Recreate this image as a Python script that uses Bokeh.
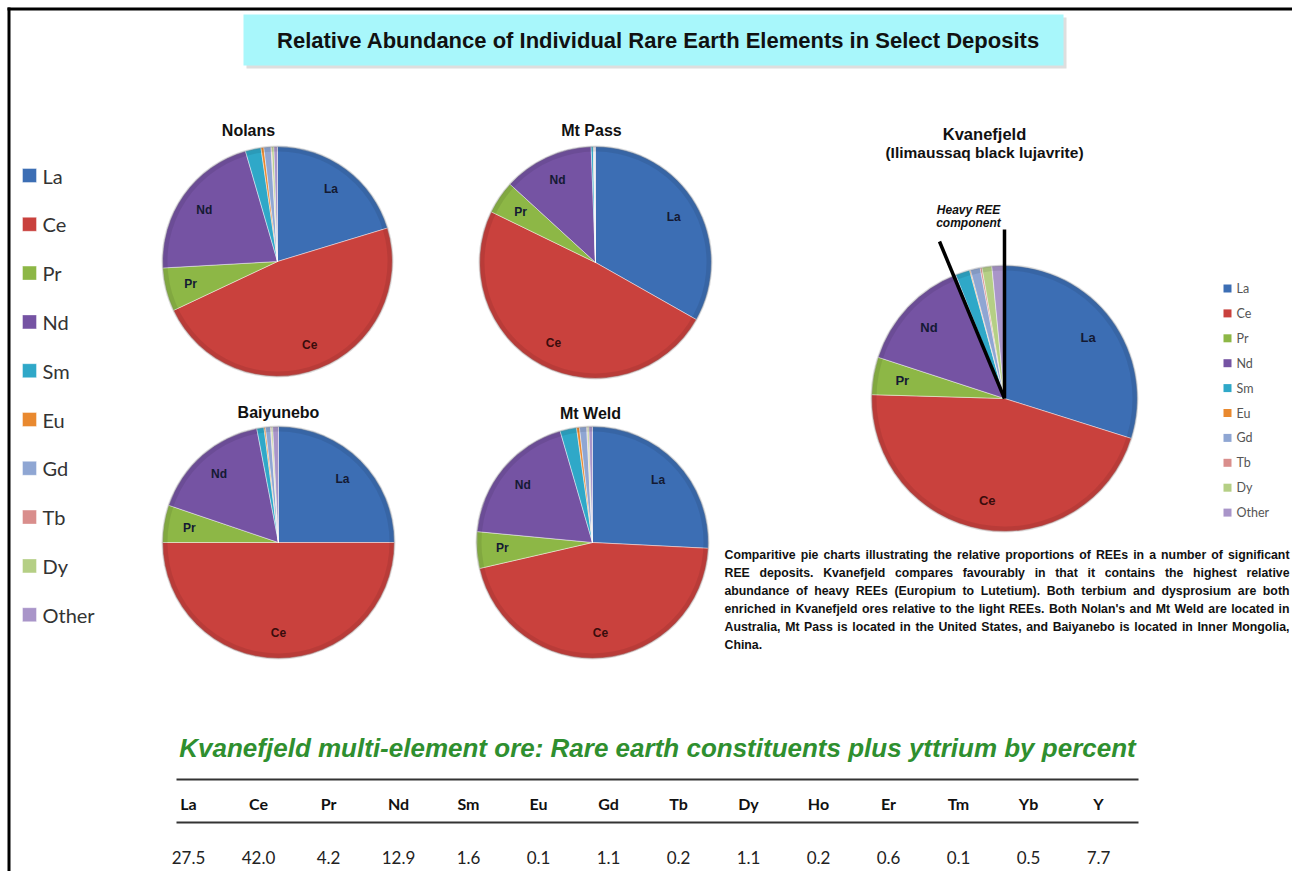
import math
from bokeh.plotting import figure
from bokeh.models import Range1d, ColumnDataSource
from bokeh.core.properties import value
from bokeh.embed import file_html
from bokeh.resources import INLINE

W, H = 1292, 871

# ---- data ---------------------------------------------------------------
elements = ["La", "Ce", "Pr", "Nd", "Sm", "Eu", "Gd", "Tb", "Dy", "Other"]
colors = ["#3C6EB4", "#C9413D", "#8DB746", "#7553A3", "#2FA8C8",
          "#E9892F", "#8FA6D3", "#D98E8C", "#B5CF85", "#A995C9"]

nolans = [20.3, 47.7, 6.1, 21.4, 2.2, 0.4, 1.0, 0.1, 0.3, 0.5]
mt_pass = [33.2, 49.0, 4.6, 12.6, 0.3, 0.05, 0.1, 0.02, 0.03, 0.1]
baiyunebo = [25.0, 50.0, 5.2, 16.8, 1.0, 0.2, 0.7, 0.1, 0.2, 0.8]
mt_weld = [25.8, 45.6, 5.1, 19.0, 2.3, 0.4, 1.0, 0.1, 0.2, 0.5]

table_elements = ["La", "Ce", "Pr", "Nd", "Sm", "Eu", "Gd", "Tb", "Dy",
                  "Ho", "Er", "Tm", "Yb", "Y"]
table_values = [27.5, 42.0, 4.2, 12.9, 1.6, 0.1, 1.1, 0.2, 1.1,
                0.2, 0.6, 0.1, 0.5, 7.7]

# Kvanefjeld pie: lanthanides from the table, Ho..Yb lumped as "Other"
kv = dict(zip(table_elements, table_values))
kvanefjeld = [kv["La"], kv["Ce"], kv["Pr"], kv["Nd"], kv["Sm"], kv["Eu"],
              kv["Gd"], kv["Tb"], kv["Dy"],
              kv["Ho"] + kv["Er"] + kv["Tm"] + kv["Yb"]]

caption = ("Comparitive pie charts illustrating the relative proportions of REEs in a number of significant\n"
           "REE deposits. Kvanefjeld compares favourably in that it contains the highest relative\n"
           "abundance of heavy REEs (Europium to Lutetium). Both terbium and dysprosium are both\n"
           "enriched in Kvanefjeld ores relative to the light REEs. Both Nolan's and Mt Weld are located in\n"
           "Australia, Mt Pass is located in the United States, and Baiyanebo is located in Inner Mongolia,\n"
           "China.")

# ---- canvas -------------------------------------------------------------
p = figure(width=W, height=H, x_range=Range1d(0, W), y_range=Range1d(0, H),
           output_backend="svg", toolbar_location=None, min_border=0)
p.axis.visible = False
p.grid.visible = False
p.outline_line_color = None
p.background_fill_color = "white"
p.border_fill_color = "white"


def Y(py):
    return H - py


def txt(x, y, s, size, font="Liberation Sans", style="normal",
        color="black", align="left", baseline="middle"):
    p.text(x=[x], y=[Y(y)], text=[s], text_font=value(font),
           text_font_size=value(f"{size}px"), text_font_style=style,
           text_color=color, text_align=align, text_baseline=baseline)


# frame lines
p.quad(left=7, right=W, top=Y(7), bottom=Y(10), fill_color="black", line_color=None)
p.quad(left=7, right=10, top=Y(7), bottom=0, fill_color="black", line_color=None)

# banner
p.quad(left=246, right=1066, top=Y(17), bottom=Y(68), fill_color="#c8c8c8",
       fill_alpha=0.6, line_color=None)
p.quad(left=243, right=1063, top=Y(14), bottom=Y(65), fill_color="#A8F7FB",
       line_color=None)
txt(658, 40, "Relative Abundance of Individual Rare Earth Elements in Select Deposits",
    22, style="bold", align="center", color="#111111")


def pie(vals, cx, cy, r, label_size=12):
    total = sum(vals)
    starts, ends, acc = [], [], 0.0
    for v in vals:
        starts.append(math.pi / 2 - acc / total * 2 * math.pi)
        acc += v
        ends.append(math.pi / 2 - acc / total * 2 * math.pi)
    src = ColumnDataSource(dict(start=starts, end=ends, color=colors, name=elements))
    p.wedge(x=cx, y=Y(cy), radius=r, start_angle="start", end_angle="end",
            direction="clock", fill_color="color", line_color="white",
            line_alpha=0.55, line_width=0.8, source=src)
    # soft bevel at the rim
    p.annulus(x=cx, y=Y(cy), inner_radius=r - 5, outer_radius=r,
              fill_color="black", fill_alpha=0.08, line_color=None)
    p.annulus(x=cx, y=Y(cy), inner_radius=r - 1, outer_radius=r + 1,
              fill_color="#777777", fill_alpha=0.25, line_color=None)
    # slice names for the major components
    for i in range(4):
        mid = (starts[i] + ends[i]) / 2
        lx = cx + 0.78 * r * math.cos(mid)
        ly = cy - 0.78 * r * math.sin(mid)
        col = "#3a0c0c" if elements[i] == "Ce" else "#141a33"
        txt(lx, ly, elements[i], label_size, style="bold", color=col, align="center")


txt(248, 130, "Nolans", 16, style="bold", align="center", color="#111111")
pie(nolans, 277, 261, 115)
txt(591, 130, "Mt Pass", 16, style="bold", align="center", color="#111111")
pie(mt_pass, 595, 262, 116)
txt(278, 412, "Baiyunebo", 16, style="bold", align="center", color="#111111")
pie(baiyunebo, 278, 542, 116)
txt(590, 413, "Mt Weld", 16, style="bold", align="center", color="#111111")
pie(mt_weld, 592, 542, 116)

txt(984, 133, "Kvanefjeld", 16.5, style="bold", align="center", color="#111111")
txt(984, 152, "(Ilimaussaq black lujavrite)", 15.5, style="bold", align="center",
    color="#111111")
pie(kvanefjeld, 1004, 398, 133, label_size=13)

# heavy REE pointer lines
p.line(x=[1004, 1004], y=[Y(398), Y(229)], line_color="black", line_width=3.5)
p.line(x=[1004, 939], y=[Y(398), Y(241)], line_color="black", line_width=3.5)
txt(968, 209, "Heavy REE", 12, style="bold italic", align="center", color="#111111")
txt(968, 222, "component", 12, style="bold italic", align="center", color="#111111")

# left legend
for i, (name, col) in enumerate(zip(elements, colors)):
    yy = 175 + 48.8 * i
    p.quad(left=22, right=36, top=Y(yy - 7), bottom=Y(yy + 7), fill_color=col,
           line_color="#ffffff", line_alpha=0.4)
    txt(42, yy, name, 20, font="Lato", color="#333333")

# Kvanefjeld legend
for i, (name, col) in enumerate(zip(elements, colors)):
    yy = 288 + 24.9 * i
    p.quad(left=1223, right=1231, top=Y(yy - 4), bottom=Y(yy + 4), fill_color=col,
           line_color=None)
    txt(1236, yy, name, 12.5, font="Lato", color="#555555")

# caption, justified with Arial Bold advance widths
AW = {" ": 278, "'": 238, "(": 333, ")": 333, ",": 278, "-": 333, ".": 278,
      "A": 722, "B": 722, "C": 722, "D": 722, "E": 667, "F": 611, "G": 778,
      "H": 722, "I": 278, "J": 556, "K": 722, "L": 611, "M": 833, "N": 722,
      "O": 778, "P": 667, "Q": 778, "R": 722, "S": 667, "T": 611, "U": 722,
      "V": 667, "W": 944, "X": 667, "Y": 667, "Z": 611,
      "a": 556, "b": 611, "c": 556, "d": 611, "e": 556, "f": 333, "g": 611,
      "h": 611, "i": 278, "j": 278, "k": 556, "l": 278, "m": 889, "n": 611,
      "o": 611, "p": 611, "q": 611, "r": 389, "s": 556, "t": 333, "u": 611,
      "v": 556, "w": 778, "x": 556, "y": 556, "z": 500}
cap_size = 12.3
cap_left, cap_right = 724, 1289


def wwidth(w):
    return sum(AW.get(c, 556) for c in w) * cap_size / 1000.0


cap_lines = caption.split("\n")
for li, line in enumerate(cap_lines):
    yy = 554 + 18 * li
    words = line.split(" ")
    if li == len(cap_lines) - 1 or len(words) == 1:
        txt(cap_left, yy, line, cap_size, style="bold", color="#111111")
        continue
    widths = [wwidth(w) for w in words]
    gap = (cap_right - cap_left - sum(widths)) / (len(words) - 1)
    xx = cap_left
    for w, ww in zip(words, widths):
        txt(xx, yy, w, cap_size, style="bold", color="#111111")
        xx += ww + gap

# table
txt(657, 747, "Kvanefjeld multi-element ore: Rare earth constituents plus yttrium by percent",
    26, style="bold italic", color="#2f8f2f", align="center")
p.line(x=[176, 1138], y=[Y(779), Y(779)], line_color="#333333", line_width=2)
p.line(x=[176, 1138], y=[Y(822), Y(822)], line_color="#333333", line_width=2)
for i, (el, v) in enumerate(zip(table_elements, table_values)):
    cx = 188 + 70.0 * i
    txt(cx, 803, el, 16, font="Lato", style="bold", color="#111111", align="center")
    txt(cx, 857, f"{v:.1f}", 17, font="Lato", color="#222222", align="center")

open("out.html", "w").write(file_html(p, INLINE))
